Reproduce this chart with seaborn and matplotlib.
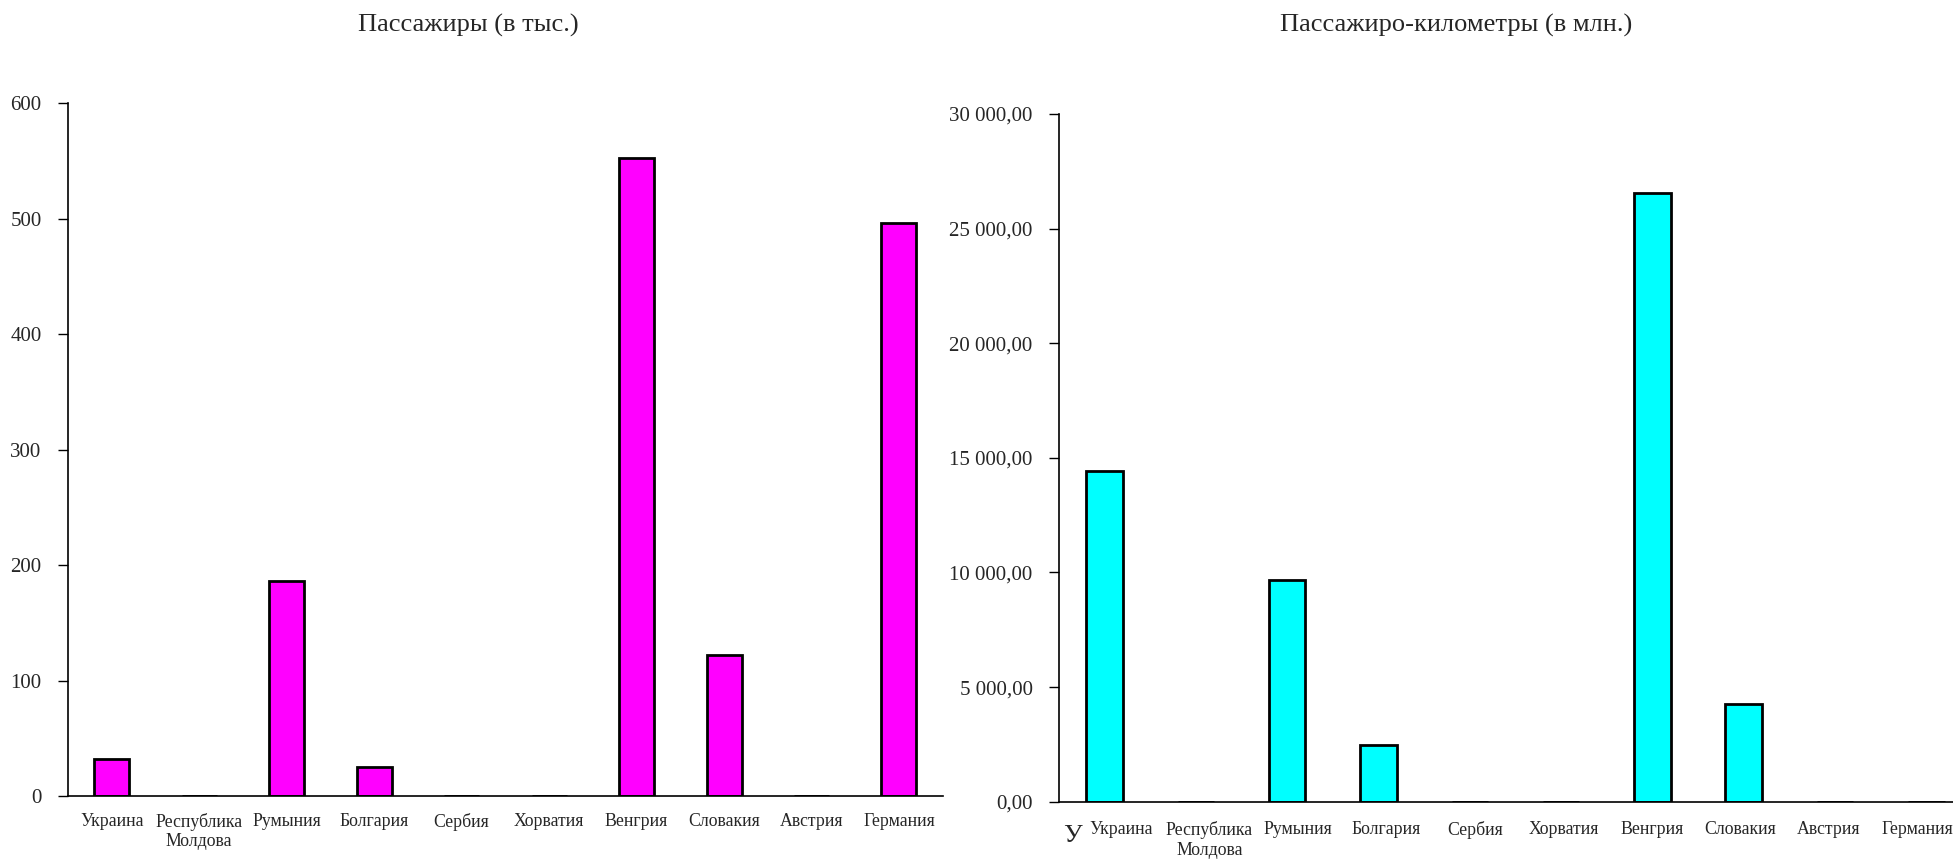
import numpy as np
import pandas as pd
import matplotlib
matplotlib.use('Agg')
import matplotlib.pyplot as plt
import seaborn as sns
from matplotlib.ticker import FuncFormatter, FixedLocator


countries = ['Украина', 'Республика\nМолдова', 'Румыния', 'Болгария', 'Сербия',
             'Хорватия', 'Венгрия', 'Словакия', 'Австрия', 'Германия']
passengers = [32, 0, 186, 25, 0, 0, 552, 122, 0, 496]
pass_km = [14430, 0, 9650, 2480, 0, 0, 26550, 4270, 0, 0]

titles = ['Пассажиры (в тыс.)', 'Пассажиро-километры (в млн.)']
colors = ['#ff00ff', '#00ffff']

sns.set_style('white')
plt.rcParams['font.family'] = ['Liberation Serif', 'DejaVu Serif']


def ru_fmt(v, pos):
    s = '{:,.2f}'.format(v)
    return s.replace(',', ' ').replace('.', ',')


def draw(ax, values, color, ylim, step, fmt=None, label_pos=None, pad=12):
    df = pd.DataFrame({'country': countries, 'value': values})
    sns.barplot(data=df, x='country', y='value', color=color, width=0.4,
                edgecolor='black', linewidth=2, saturation=1, ax=ax)
    n = len(countries)
    ax.set_xlim(-0.5, n - 0.5)
    ax.set_ylim(0, ylim)
    ax.set_yticks(np.arange(0, ylim + 1, step))
    if fmt is not None:
        ax.yaxis.set_major_formatter(FuncFormatter(fmt))
    if label_pos is None:
        label_pos = np.arange(n)
    ax.set_xticks(label_pos)
    ax.set_xticklabels(countries)
    ax.set_xlabel('')
    ax.set_ylabel('')
    for s in ['top', 'right']:
        ax.spines[s].set_visible(False)
    for s in ['left', 'bottom']:
        ax.spines[s].set_linewidth(1.2)
        ax.spines[s].set_color('black')
    # category boundaries as cross ticks
    ax.xaxis.set_minor_locator(FixedLocator(np.arange(-0.5, n, 1.0)))
    ax.tick_params(axis='x', which='major', length=0, pad=pad, labelsize=12.8)
    ax.tick_params(axis='x', which='minor', direction='inout', length=13,
                   width=1, color='#555555')
    ax.tick_params(axis='y', which='major', direction='out', length=7,
                   width=1, color='black', labelsize=15, pad=12, left=True)


fig = plt.figure(figsize=(19.53, 8.59), dpi=100)
ax1 = fig.add_axes([0.0348, 0.0733, 0.4479, 0.8068])
ax2 = fig.add_axes([0.5422, 0.0667, 0.4675, 0.8006])

draw(ax1, passengers, colors[0], 600, 100, pad=12)
# labels on the right chart sit a little tighter than the bars
draw(ax2, pass_km, colors[1], 30000, 5000, ru_fmt,
     label_pos=np.linspace(0.18, 8.9, len(countries)), pad=14)

fig.text(468 / 1953, 1 - 25 / 859, titles[0], ha='center', va='center', fontsize=19)
fig.text(1456 / 1953, 1 - 25 / 859, titles[1], ha='center', va='center', fontsize=19)
fig.text(1072 / 1953, 1 - 836 / 859, 'У', ha='center', va='center', fontsize=19)

fig.savefig('out.png', dpi=100)
